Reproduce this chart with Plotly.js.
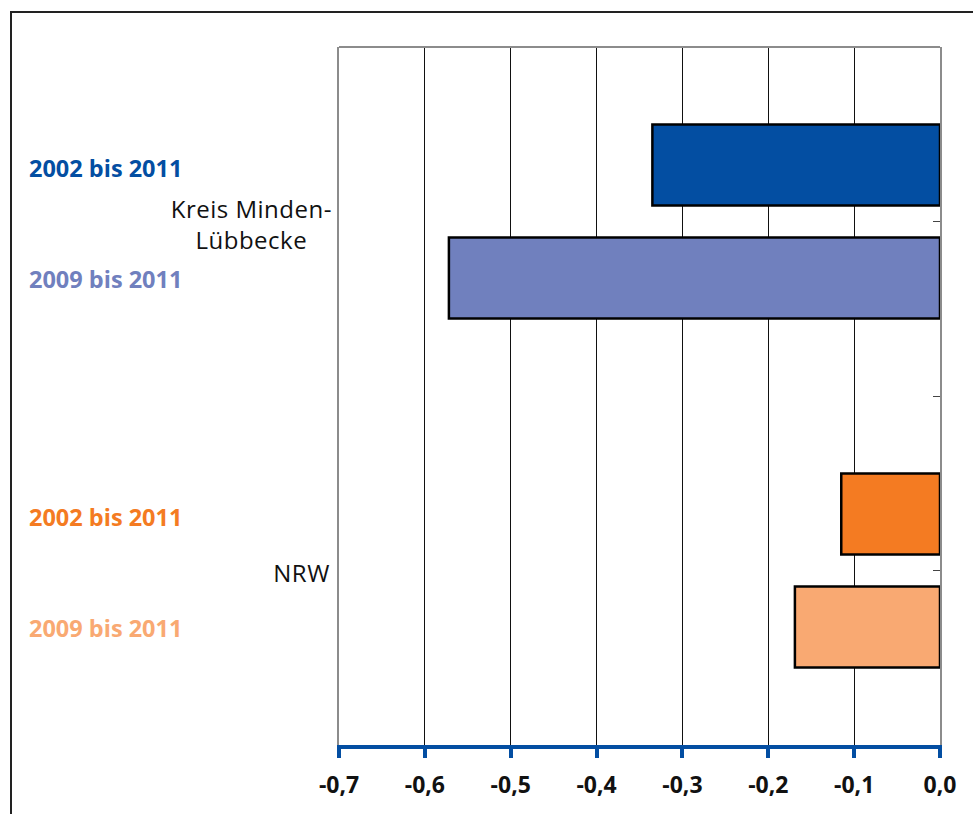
<!DOCTYPE html>
<html>
<head>
<meta charset="utf-8">
<script src="https://cdn.plot.ly/plotly-3.0.1.min.js"></script>
<style>
  html, body { margin: 0; padding: 0; background: #fff; overflow: hidden; }
  #frame { position: absolute; left: 10px; top: 11px; width: 1100px; height: 1000px; border: 2px solid #222; box-sizing: border-box; pointer-events: none; z-index: 5; }
  #chart { position: absolute; left: 0; top: 0; width: 973px; height: 814px; }
  .catlabel text, text.catlabel { letter-spacing: 0.6px; }
</style>
</head>
<body>
<div id="frame"></div>
<div id="chart"></div>
<script>
// ---- data ----
const categories = ['Kreis Minden-Lübbecke', 'NRW'];
const categoryLabels = ['Kreis Minden-<br>Lübbecke', 'NRW'];
const seriesNames = ['2002 bis 2011', '2009 bis 2011'];
const values2002 = [-0.335, -0.115];
const values2009 = [-0.572, -0.169];
const colors2002 = ['#034EA2', '#F47B22'];
const colors2009 = ['#7080BE', '#F9A972'];
const xTickVals = [-0.7, -0.6, -0.5, -0.4, -0.3, -0.2, -0.1, 0.0];
const xTickText = ['-0,7', '-0,6', '-0,5', '-0,4', '-0,3', '-0,2', '-0,1', '0,0'];
const boundaryTicks = [0, 1, 2, 3, 4];

const FONT = 'Open Sans, Noto Sans, sans-serif';

const traces = [
  {
    type: 'bar', orientation: 'h', name: seriesNames[0],
    y: categories, x: values2002,
    marker: { color: colors2002, line: { color: '#000', width: 2.5 } },
    hoverinfo: 'skip'
  },
  {
    type: 'bar', orientation: 'h', name: seriesNames[1],
    y: categories, x: values2009,
    marker: { color: colors2009, line: { color: '#000', width: 2.5 } },
    hoverinfo: 'skip'
  },
  {
    type: 'scatter', mode: 'none', x: [0, 0], y: [0, 4], yaxis: 'y2',
    hoverinfo: 'skip', showlegend: false
  }
];

const annotations = [];
categories.forEach((c, i) => {
  annotations.push({
    xref: 'paper', yref: 'y', x: 0, y: c, xanchor: 'right', yanchor: 'middle',
    xshift: -8, yshift: -2, align: 'center', showarrow: false,
    text: categoryLabels[i], font: { family: FONT, size: 24, color: '#111' }
  });
  annotations.push({
    xref: 'paper', yref: 'y', x: 0, y: c, xanchor: 'left', yanchor: 'middle',
    xshift: -312, yshift: 54, showarrow: false,
    text: '<b>' + seriesNames[0] + '</b>', font: { family: FONT, size: 23.5, color: colors2002[i] }
  });
  annotations.push({
    xref: 'paper', yref: 'y', x: 0, y: c, xanchor: 'left', yanchor: 'middle',
    xshift: -312, yshift: -57, showarrow: false,
    text: '<b>' + seriesNames[1] + '</b>', font: { family: FONT, size: 23.5, color: colors2009[i] }
  });
});

const layout = {
  width: 973, height: 814,
  margin: { l: 339, r: 33, t: 47, b: 69, pad: 0 },
  paper_bgcolor: '#fff', plot_bgcolor: '#fff',
  showlegend: false,
  barmode: 'group', bargap: 0.352, bargroupgap: 0.283,
  font: { family: FONT, color: '#111' },
  xaxis: {
    range: [-0.7, 0], tickvals: xTickVals, ticktext: xTickText,
    showgrid: true, gridcolor: '#111', gridwidth: 1,
    zeroline: false,
    showline: true, linecolor: '#034EA2', linewidth: 4,
    ticks: 'outside', ticklen: 9, tickwidth: 4, tickcolor: '#034EA2',
    ticklabelstandoff: 7,
    tickfont: { family: FONT, size: 23, color: '#111', weight: 'bold' },
    fixedrange: true
  },
  yaxis: {
    type: 'category', autorange: 'reversed',
    showticklabels: false, ticks: '', showgrid: false, zeroline: false,
    showline: true, linecolor: '#8c8c8c', linewidth: 2, mirror: true,
    fixedrange: true
  },
  yaxis2: {
    overlaying: 'y', side: 'right', range: [0, 4],
    tickvals: boundaryTicks, ticks: 'inside', ticklen: 7, tickwidth: 1, tickcolor: '#444',
    showticklabels: false, showgrid: false, zeroline: false, showline: false,
    fixedrange: true
  },
  shapes: [
    { type: 'line', xref: 'paper', yref: 'paper', x0: 0, x1: 1, y0: 1, y1: 1,
      line: { color: '#8c8c8c', width: 2 } }
  ],
  annotations: annotations
};

Plotly.newPlot('chart', traces, layout, { staticPlot: true, displayModeBar: false }).then(() => {
  document.querySelectorAll('#chart .annotation-text').forEach((t, idx) => {
    if (idx % 3 === 0) t.style.letterSpacing = '0.5px';
  });
});
</script>
</body>
</html>
